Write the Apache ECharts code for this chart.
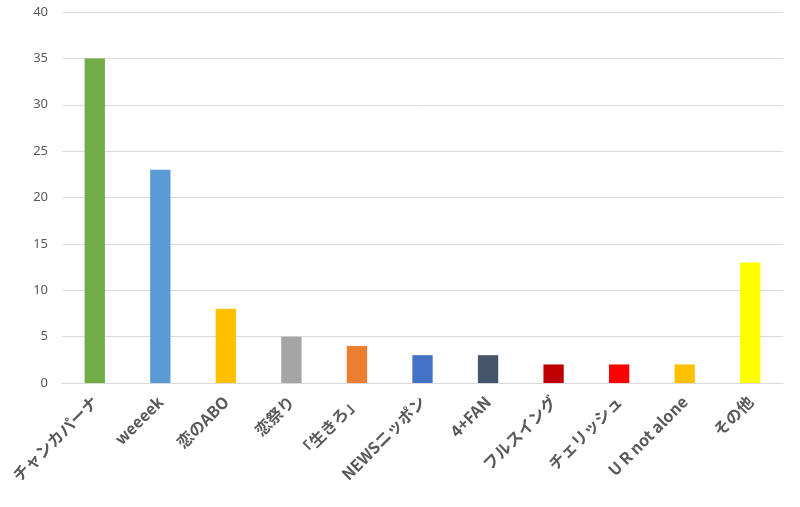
<!DOCTYPE html>
<html><head><meta charset="utf-8">
<script src="https://cdn.jsdelivr.net/npm/echarts@6/dist/echarts.min.js"></script>
<style>html,body{margin:0;padding:0;background:#fff}#c{width:800px;height:507px}</style>
</head><body><div id="c"></div>
<script>
const categories = ["チャンカパーナ","weeeek","恋のABO","恋祭り","「生きろ」","NEWSニッポン","4+FAN","フルスイング","チェリッシュ","U R not alone","その他"];
const values = [35,23,8,5,4,3,3,2,2,2,13];
const colors = ["#70AD47","#5B9BD5","#FFC000","#A5A5A5","#ED7D31","#4472C4","#44546A","#C00000","#FF0000","#FFC000","#FFFF00"];
const chart = echarts.init(document.getElementById('c'));
chart.setOption({
  animation:false,
  grid:{left:62,right:17,top:12,bottom:124},
  xAxis:{type:'category',data:categories,
    axisLine:{lineStyle:{color:'#D9D9D9'}},axisTick:{show:false},
    axisLabel:{rotate:45,interval:0,color:'#595959',fontSize:16,fontWeight:'bold',
      fontFamily:'"Noto Sans CJK JP", "Noto Sans", sans-serif',margin:16}},
  yAxis:{type:'value',min:0,max:40,interval:5,
    axisLine:{show:false},axisTick:{show:false},
    splitLine:{lineStyle:{color:'#D9D9D9'}},
    axisLabel:{color:'#595959',fontSize:13,fontFamily:'"Noto Sans", sans-serif',margin:14}},
  series:[{type:'bar',barWidth:'31%',
    data:values.map((v,i)=>({value:v,itemStyle:{color:colors[i]}}))}]
});
</script></body></html>
